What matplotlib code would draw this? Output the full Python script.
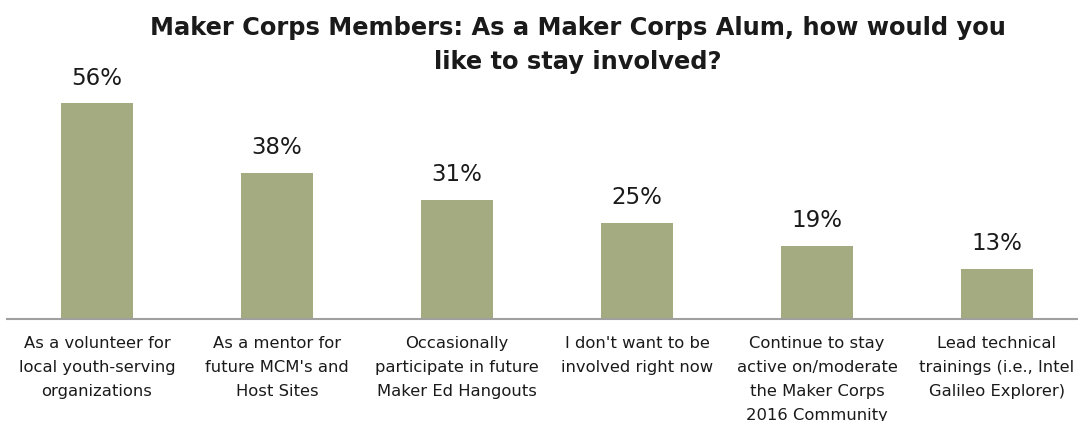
import matplotlib.pyplot as plt

categories = [
    "As a volunteer for\nlocal youth-serving\norganizations",
    "As a mentor for\nfuture MCM's and\nHost Sites",
    "Occasionally\nparticipate in future\nMaker Ed Hangouts",
    "I don't want to be\ninvolved right now",
    "Continue to stay\nactive on/moderate\nthe Maker Corps\n2016 Community",
    "Lead technical\ntrainings (i.e., Intel\nGalileo Explorer)",
]
values = [56, 38, 31, 25, 19, 13]

plt.rcParams['font.family'] = ['DejaVu Sans']

fig = plt.figure(figsize=(10.78, 4.21), dpi=100)
ax = fig.add_axes([7 / 1078, 102 / 421, 1071 / 1078, 231 / 421])

x = range(len(values))
bars = ax.bar(x, values, width=0.4, color="#A4AB80")

for xi, v in zip(x, values):
    ax.text(xi, v + 3.5, f"{v}%", ha="center", va="bottom", fontsize=16.5, color="#1a1a1a")

ax.set_xlim(-0.5, 5.45)
ax.set_ylim(0, 60)
ax.set_xticks(list(x))
ax.set_xticklabels(categories, fontsize=11.8, color="#1a1a1a", linespacing=1.75)
ax.tick_params(axis="x", length=0, pad=12)
ax.set_yticks([])
for side in ["top", "right", "left"]:
    ax.spines[side].set_visible(False)
ax.spines["bottom"].set_color("#A0A0A0")
ax.spines["bottom"].set_linewidth(1.5)

fig.text(0.536, 0.962, "Maker Corps Members: As a Maker Corps Alum, how would you\nlike to stay involved?",
         ha="center", va="top", fontsize=17.4, fontweight="bold", color="#1a1a1a", linespacing=1.55)

fig.savefig("out.png", dpi=100)
